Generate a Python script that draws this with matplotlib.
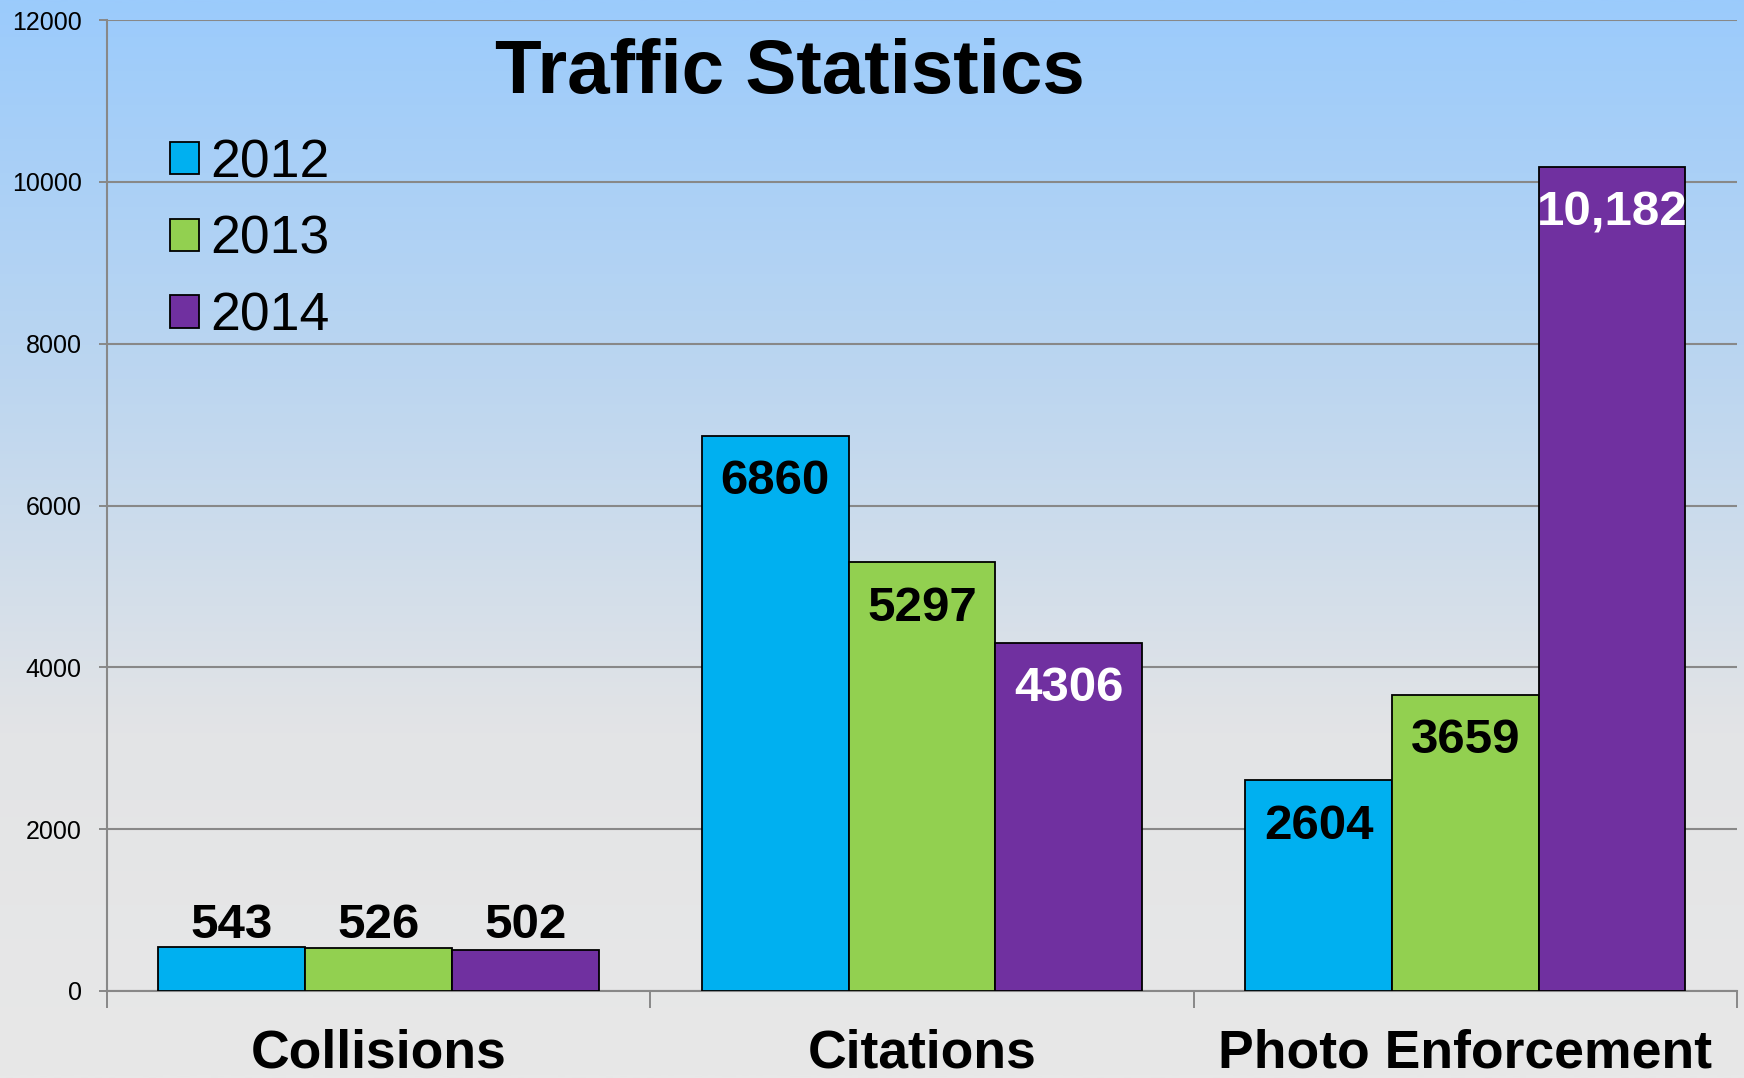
import matplotlib
matplotlib.use("Agg")
import matplotlib.pyplot as plt
import numpy as np
from matplotlib.patches import Patch
from matplotlib.colors import LinearSegmentedColormap

plt.rcParams['font.family'] = ['Liberation Sans', 'DejaVu Sans']

categories = ["Collisions", "Citations", "Photo Enforcement"]
years = ["2012", "2013", "2014"]
values_2012 = [543, 6860, 2604]
values_2013 = [526, 5297, 3659]
values_2014 = [502, 4306, 10182]
series = [values_2012, values_2013, values_2014]
colors = ["#00B0F0", "#92D050", "#7030A0"]
yticks = [0, 2000, 4000, 6000, 8000, 10000, 12000]
title = "Traffic Statistics"

W, H = 1744, 1078
fig = plt.figure(figsize=(W / 100, H / 100), dpi=100)

# background gradient
bg = fig.add_axes([0, 0, 1, 1], zorder=-10)
cmap = LinearSegmentedColormap.from_list(
    "bg", [(0.0, "#9BCBFC"), (0.35, "#BCD6F0"), (0.68, "#E3E4E6"), (1.0, "#E8E8E8")])
grad = np.linspace(0, 1, 512).reshape(-1, 1)
bg.imshow(grad, aspect="auto", cmap=cmap, extent=[0, 1, 0, 1], origin="upper")
bg.set_xlim(0, 1)
bg.set_ylim(0, 1)
bg.axis("off")

left, right, top, bottom = 106.8 / W, 1737 / W, 1 - 20 / H, 1 - 991 / H
ax = fig.add_axes([left, bottom, right - left, top - bottom])
ax.patch.set_alpha(0)

x = np.arange(len(categories))
bw = 0.27
grid_col = "#888888"
group_max = [max(s[j] for s in series) for j in range(len(categories))]
for i, (vals, col) in enumerate(zip(series, colors)):
    xs = x + (i - 1) * bw
    ax.bar(xs, vals, width=bw, color=col, edgecolor="black", linewidth=1.3, zorder=3)
    for j, (xi, v) in enumerate(zip(xs, vals)):
        label = f"{v:,}" if v >= 10000 else f"{v}"
        if v < 1000:
            anchor, off, tc = group_max[j], 15.5, "black"
        else:
            anchor, off, tc = v, -33, ("white" if i == 2 else "black")
        ax.annotate(label, (xi, anchor), xytext=(0, off), textcoords="offset points",
                    ha="center", va="center", fontsize=35.5, fontweight="bold",
                    color=tc, zorder=5)

ax.set_xlim(-0.5, 2.5)
ax.set_ylim(0, 12000)
ax.set_yticks(yticks)
ax.set_yticklabels([str(t) for t in yticks], fontsize=18, color="black")
ax.tick_params(axis="y", length=6, width=1.4, color=grid_col, pad=12)
ax.yaxis.grid(True, color=grid_col, linewidth=1.5, zorder=0)
ax.set_axisbelow(True)

ax.set_xticks(x)
ax.set_xticklabels(categories, fontsize=38.5, fontweight="bold")
ax.tick_params(axis="x", which="major", length=0, pad=27)
ax.set_xticks([-0.5, 0.5, 1.5, 2.5], minor=True)
ax.tick_params(axis="x", which="minor", length=12, width=1.4, color=grid_col)

for s in ["top", "right"]:
    ax.spines[s].set_visible(False)
for s in ["left", "bottom"]:
    ax.spines[s].set_color(grid_col)
    ax.spines[s].set_linewidth(1.5)

fig.text(790 / W, 1 - 73 / H, title, ha="center", va="center",
         fontsize=55, fontweight="bold", color="black")

handles = [Patch(facecolor=c, edgecolor="black", linewidth=1.3) for c in colors]
leg = fig.legend(handles, years, loc="upper left", bbox_to_anchor=(170 / W, 1 - 138 / H),
                 frameon=False, fontsize=38.5, handlelength=0.55, handleheight=0.55,
                 handletextpad=0.2, labelspacing=0.5, borderpad=0, borderaxespad=0)

fig.savefig("out.png", dpi=100)
